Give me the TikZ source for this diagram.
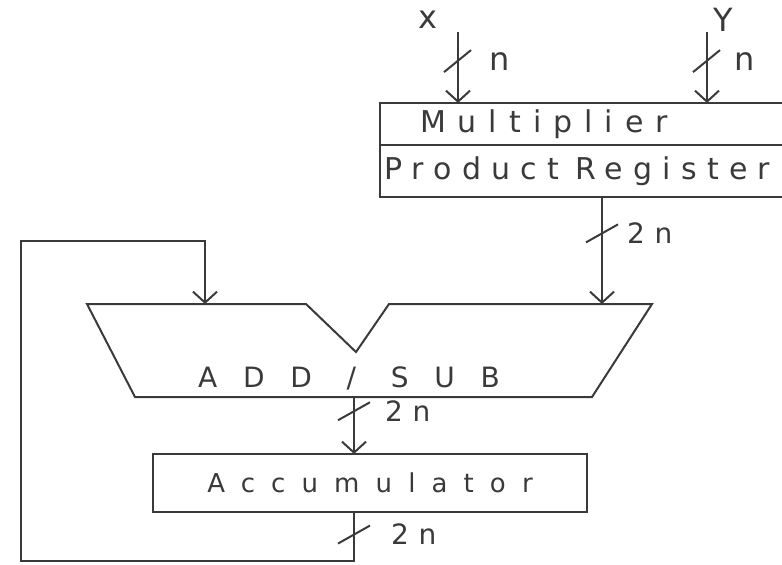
\documentclass[tikz,border=0pt]{standalone}
\usepackage{fontspec}
\setmainfont{DejaVu Sans}
\usepackage{tikz}
\usetikzlibrary{arrows.meta, positioning}

\definecolor{ink}{HTML}{3A3A3A}

\begin{document}
\begin{tikzpicture}[x=0.5pt, y=-0.5pt, line width=1pt, color=ink,
    box/.style={draw, rectangle, inner ysep=0pt, outer sep=0pt},
    bus/.style={-{Straight Barb[length=5.5pt, width=12pt]}},
    hand/.style 2 args={font={\fontsize{#1}{#1}\selectfont\addfontfeatures{LetterSpace=#2}}},
    buslbl/.style={hand={14}{35}, inner sep=0pt}]
    \useasboundingbox (0,0) rectangle (782,564);
    \clip (0,0) rectangle (782,564);

    % multiplier and product register (run off the right edge)
    \node (mul) [box, anchor=west, minimum height=21pt, text width=220pt, inner xsep=20pt, align=left, hand={15}{40}] at (380,124) {Multiplier};
    \node (preg) [box, anchor=north west, minimum height=26pt, text width=256pt, inner xsep=2pt, align=left, hand={15}{34}] at (mul.south west) {Product\hspace{8pt}Register};

    % inputs
    \coordinate (xin) at (458,32);
    \coordinate (yin) at (707,32);
    \node (xname) [hand={16}{0}] at (428,20) {x};
    \node (yname) [hand={16}{0}] at (723,20) {Y};
    \draw[bus] (xin) -- coordinate[pos=0.41] (xs) (xin |- mul.north);
    \draw[bus] (yin) -- coordinate[pos=0.41] (ys) (yin |- mul.north);
    \node (xn) [hand={16}{0}, inner sep=0pt, right=15pt of xs] {n};
    \node (yn) [hand={16}{0}, inner sep=0pt, right=13pt of ys] {n};

    % add/sub unit
    \coordinate (aluL) at (205,304);
    \coordinate (aluR) at (602,304);
    \coordinate (aluout) at (354,397);
    \draw (87,304) -- (306,304) -- (356,352) -- (389,304) -- (652,304) -- (592,397) -- (135,397) -- cycle;
    \node (alu) [hand={14}{92}] at (349,378) {ADD / SUB};

    % accumulator
    \node (acc) [box, minimum width=217pt, minimum height=29pt, hand={13}{62}] at (370,483) {Accumulator};

    % buses
    \draw[bus] (preg.south -| aluR) -- coordinate[pos=0.34] (ps) (aluR);
    \node (pn) [buslbl, right=12pt of ps] {2n};
    \draw[bus] (aluout) -- coordinate[pos=0.25] (as) (aluout |- acc.north);
    \node (an) [buslbl, right=15pt of as] {2n};

    % feedback loop
    \coordinate (loopbl) at (21,561);
    \coordinate (looptl) at (21,241);
    \draw[bus] (acc.south -| aluout) -- coordinate[pos=0.46] (os) (aluout |- loopbl) -- (loopbl) -- (looptl) -| (aluL);
    \node (on) [buslbl, right=18pt of os] {2n};

    % width marks
    \draw (xs) ++(-14,11) -- ++(27,-22);
    \draw (ys) ++(-14,11) -- ++(27,-22);
    \foreach \s in {ps, as, os}
        \draw (\s) ++(-16,9) -- ++(32,-18);
\end{tikzpicture}
\end{document}
